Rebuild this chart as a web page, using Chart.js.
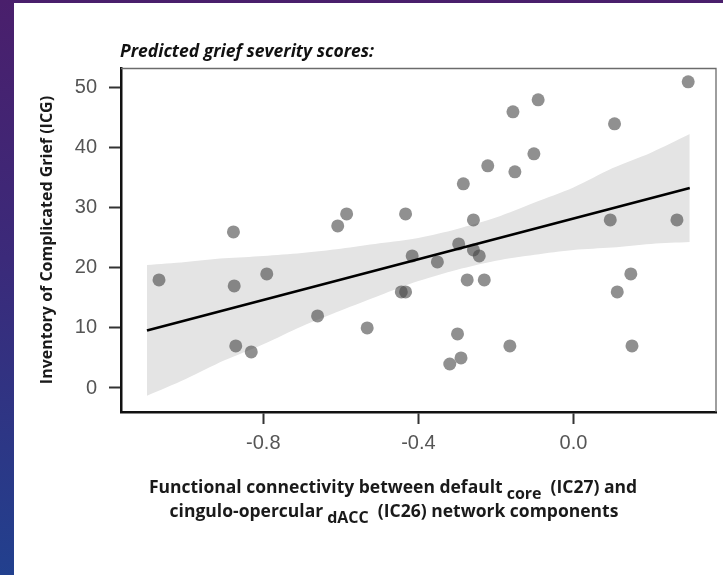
<!DOCTYPE html>
<html>
<head>
<meta charset="utf-8">
<script src="https://cdn.jsdelivr.net/npm/chart.js@4.4.1/dist/chart.umd.min.js"></script>
<style>
  html, body { margin:0; padding:0; width:723px; height:575px; overflow:hidden;
    background: linear-gradient(180deg, #4a1f6c 0%, #3b2a7a 45%, #22408e 100%); }
  #panel { position:absolute; left:14px; top:3px; width:709px; height:572px; background:#fff; }
</style>
</head>
<body>
<div id="panel"><canvas id="chart"></canvas></div>
<script>
// --- data ---
const connX = [-1.069, -0.877, -0.875, -0.871, -0.831, -0.791, -0.66, -0.608, -0.585, -0.532,
               -0.444, -0.433, -0.433, -0.416, -0.351, -0.319, -0.299, -0.296, -0.29, -0.284,
               -0.274, -0.258, -0.258, -0.243, -0.23, -0.221, -0.164, -0.156, -0.151, -0.102,
               -0.091, 0.095, 0.106, 0.113, 0.148, 0.151, 0.267, 0.296];
const icgY  = [18, 26, 17, 7, 6, 19, 12, 27, 29, 10,
               16, 16, 29, 22, 21, 4, 9, 24, 5, 34,
               18, 28, 23, 22, 18, 37, 7, 46, 36, 39,
               48, 28, 44, 16, 19, 7, 28, 51];

const fitX = [-1.1, 0.3];
const fitY = [9.57, 33.33];

const bandX  = [-1.1, -1.0, -0.9, -0.8, -0.7, -0.6, -0.5, -0.4, -0.3, -0.2, -0.1, 0.0, 0.1, 0.2, 0.3];
const bandLo = [-1.3, 1.5, 4.6, 7.3, 10.3, 12.9, 15.4, 17.8, 19.7, 21.2, 22.2, 23.0, 23.4, 24.0, 24.3];
const bandHi = [20.5, 21.0, 21.6, 22.0, 22.5, 23.2, 24.1, 25.0, 26.5, 28.4, 30.9, 33.4, 36.6, 39.2, 42.3];

const xTicks = [-0.8, -0.4, 0.0];
const yTicks = [0, 10, 20, 30, 40, 50];

const plotTitle = 'Predicted grief severity scores:';
const yTitle = 'Inventory of Complicated Grief (ICG)';
const xTitle1 = [['Functional connectivity between default', false], ['core', true], ['  (IC27) and', false]];
const xTitle2 = [['cingulo-opercular', false], ['dACC', true], ['  (IC26) network components', false]];

const el = (id) => document.getElementById(id);
const zip = (xs, ys) => xs.map((x, i) => ({x, y: ys[i]}));

function drawSubLine(ctx, parts, cx, y){
  const mainF = 'bold 17.5px "Open Sans"', subF = 'bold 16px "Open Sans"';
  let total = 0;
  const w = parts.map(([t, sub]) => { ctx.font = sub ? subF : mainF; const m = ctx.measureText(t).width; total += m + (sub ? 4 : 0); return m; });
  let x = cx - total / 2;
  parts.forEach(([t, sub], i) => {
    ctx.font = sub ? subF : mainF;
    if (sub) x += 4;
    ctx.fillText(t, x, sub ? y + 6 : y);
    x += w[i];
  });
}

const decor = {
  id: 'decor',
  afterDraw(chart){
    const {ctx, chartArea: a} = chart;
    ctx.save();
    // thin top/right frame
    ctx.strokeStyle = '#6b6b6b';
    ctx.lineWidth = 1.3;
    ctx.beginPath();
    ctx.moveTo(a.left, a.top + 0.5);
    ctx.lineTo(a.right - 0.5, a.top + 0.5);
    ctx.lineTo(a.right - 0.5, a.bottom);
    ctx.stroke();
    // titles
    ctx.fillStyle = '#111';
    ctx.textAlign = 'left';
    ctx.textBaseline = 'alphabetic';
    ctx.font = 'italic bold 17.5px "Open Sans"';
    ctx.fillText(plotTitle, a.left - 1, 54);
    ctx.fillStyle = '#1a1a1a';
    drawSubLine(ctx, xTitle1, 379, 490);
    drawSubLine(ctx, xTitle2, 380, 514);
    ctx.restore();
  }
};

new Chart(el('chart').getContext('2d'), {
  type: 'scatter',
  data: {
    datasets: [
      { data: zip(bandX, bandLo), showLine: true, borderWidth: 0, pointRadius: 0, fill: false, tension: 0.3, order: 4 },
      { data: zip(bandX, bandHi), showLine: true, borderWidth: 0, pointRadius: 0, fill: '-1',
        backgroundColor: '#e4e4e4', tension: 0.3, order: 3 },
      { data: zip(connX, icgY), backgroundColor: 'rgba(70,70,70,0.6)', borderWidth: 0, pointRadius: 6.5, order: 2 },
      { data: zip(fitX, fitY), showLine: true, borderColor: '#000', borderWidth: 2.6, pointRadius: 0, order: 1 }
    ]
  },
  options: {
    responsive: true,
    maintainAspectRatio: false,
    animation: false,
    layout: { padding: { top: 65, right: 2, bottom: 113, left: 0 } },
    plugins: { legend: {display:false}, tooltip: {enabled:false} },
    scales: {
      x: {
        type: 'linear', min: -1.167, max: 0.369,
        afterBuildTicks: (s) => { s.ticks = xTicks.map(v => ({value: v})); },
        afterFit: (s) => { s.height = 50; },
        ticks: { color:'#555', font:{family:'"Liberation Sans", Arial', size:20}, padding: 7,
                 callback: (v) => Number(v).toFixed(1) },
        grid: { drawOnChartArea:false, drawTicks:true, tickLength:12, tickWidth:2, tickColor:'#333' },
        border: { display:true, color:'#111', width:2.5 }
      },
      y: {
        type: 'linear', min: -4, max: 53.3,
        afterBuildTicks: (s) => { s.ticks = yTicks.map(v => ({value: v})); },
        afterFit: (s) => { s.width = 107; },
        ticks: { color:'#555', font:{family:'"Liberation Sans", Arial', size:20}, padding: 12 },
        grid: { drawOnChartArea:false, drawTicks:true, tickLength:12, tickWidth:2, tickColor:'#333' },
        border: { display:true, color:'#111', width:2.5 },
        title: { display:true, text: yTitle, color:'#1a1a1a',
                 font:{family:'"Open Sans"', weight:'bold', size:16}, padding:{top:24, bottom:0} }
      }
    }
  },
  plugins: [decor]
});
</script>
</body>
</html>
